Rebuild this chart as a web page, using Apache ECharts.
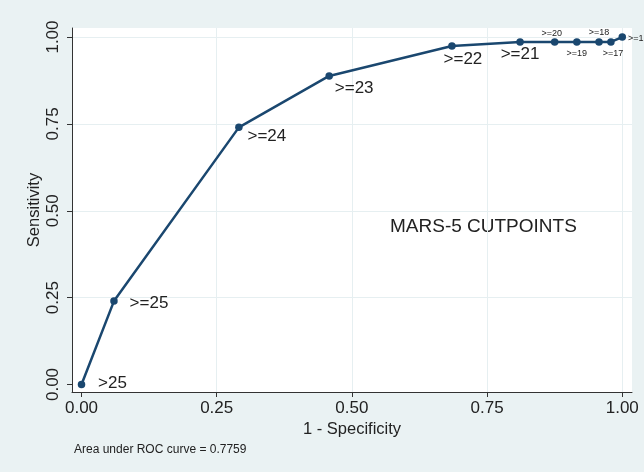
<!DOCTYPE html>
<html><head><meta charset="utf-8">
<script src="https://cdn.jsdelivr.net/npm/echarts@6/dist/echarts.min.js"></script>
<style>html,body{margin:0;padding:0;background:#eaf2f3;} #c{width:644px;height:472px;}</style>
</head><body><div id="c"></div>
<script>
// ---- data ----
const cutpoints = ['>25', '>=25', '>=24', '>=23', '>=22', '>=21', '>=20', '>=19', '>=18', '>=17', '>=16'];
const oneMinusSpecificity = [0, 0.060, 0.291, 0.458, 0.685, 0.811, 0.875, 0.916, 0.957, 0.979, 1.0];
const sensitivity = [0, 0.240, 0.740, 0.888, 0.974, 0.986, 0.986, 0.986, 0.986, 0.986, 1.0];
const tickValues = [0, 0.25, 0.5, 0.75, 1];
const gridValues = [0.25, 0.5, 0.75, 1];
const aucText = 'Area under ROC curve = 0.7759';
const noteText = 'MARS-5 CUTPOINTS';

// ---- styling (label placement) ----
const labelOffsets = [[31, -1], [35, 2], [28, 9], [25, 12], [11, 13], [0, 12], [-3, -8], [0, 12], [0, -9], [2, 12], [16, 1]];
const labelSizes = [17, 17, 17, 17, 17, 17, 9, 9, 9, 9, 9];

const FONT = "'Liberation Sans', Arial, sans-serif";
const GRIDC = '#e6eff1';
const AXC = '#333';

const chart = echarts.init(document.getElementById('c'), null, {renderer: 'canvas'});

const pts = oneMinusSpecificity.map((x, i) => ({
  value: [x, sensitivity[i]],
  label: {
    show: true, formatter: cutpoints[i], position: 'inside',
    offset: labelOffsets[i], fontSize: labelSizes[i], color: '#222', fontFamily: FONT
  }
}));

const axisCommon = {
  type: 'value',
  axisLine: {show: true, onZero: false, lineStyle: {color: AXC, width: 1}},
  axisTick: {show: true, customValues: tickValues, length: 5, lineStyle: {color: AXC}},
  splitLine: {show: false},
  nameLocation: 'middle',
  nameMoveOverlap: false,
  nameTextStyle: {fontSize: 16.5, color: '#222', fontFamily: FONT}
};

chart.setOption({
  backgroundColor: '#eaf2f3',
  animation: false,
  grid: {left: 72, right: 12, top: 28, bottom: 80, show: true, backgroundColor: '#ffffff', borderWidth: 0},
  xAxis: Object.assign({}, axisCommon, {
    min: -0.0176, max: 1.018,
    name: '1 - Specificity', nameGap: 29,
    axisLabel: {customValues: tickValues, formatter: v => v.toFixed(2), fontSize: 17, color: '#222', margin: 8, fontFamily: FONT}
  }),
  yAxis: Object.assign({}, axisCommon, {
    min: -0.0216, max: 1.026,
    name: 'Sensitivity', nameGap: 29,
    axisLabel: {customValues: tickValues, formatter: v => v.toFixed(2), fontSize: 17, color: '#222', margin: 10, rotate: 90, fontFamily: FONT}
  }),
  series: [
    {
      type: 'line', data: [], silent: true, z: 0, zlevel: 0,
      markLine: {
        silent: true, symbol: 'none', label: {show: false}, z: 0, animation: false,
        lineStyle: {color: GRIDC, width: 1, type: 'solid'},
        data: gridValues.map(v => ({xAxis: v})).concat(gridValues.map(v => ({yAxis: v})))
      }
    },
    {
      type: 'line', data: pts, z: 10,
      symbol: 'circle', symbolSize: 7.5,
      lineStyle: {color: '#1a476f', width: 2.5},
      itemStyle: {color: '#1a476f'},
      clip: false
    }
  ],
  graphic: [
    {type: 'text', left: 390, top: 217, style: {text: noteText, font: "19px 'Liberation Sans', Arial, sans-serif", fill: '#222'}},
    {type: 'text', left: 74, top: 444, style: {text: aucText, font: "12px 'Liberation Sans', Arial, sans-serif", fill: '#222'}}
  ]
});
</script>
</body></html>
